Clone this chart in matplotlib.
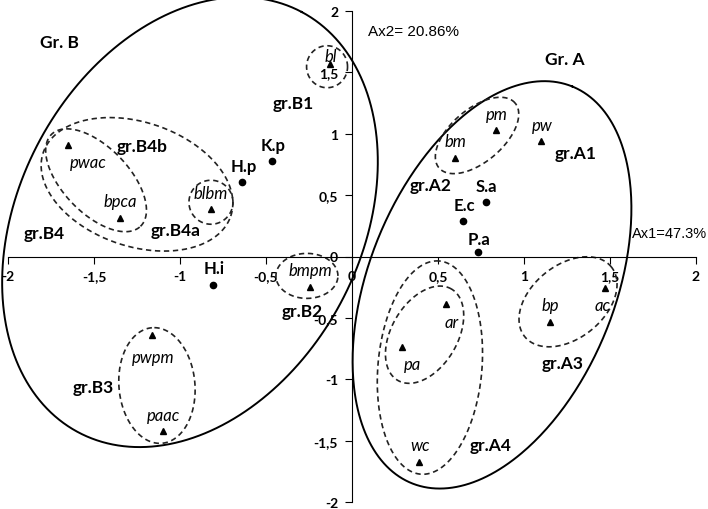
import numpy as np
import matplotlib
matplotlib.use('Agg')
from matplotlib import pyplot as plt

# species (triangles)
sp_names = ['bl', 'pwac', 'bpca', 'blbm', 'bmpm', 'pwpm', 'paac',
            'pm', 'bm', 'pw', 'ar', 'pa', 'wc', 'bp', 'ac']
sp_x = [-0.13, -1.65, -1.35, -0.82, -0.245, -1.16, -1.10,
        0.84, 0.60, 1.10, 0.545, 0.29, 0.39, 1.15, 1.47]
sp_y = [1.57, 0.91, 0.31, 0.385, -0.247, -0.637, -1.424,
        1.034, 0.803, 0.941, -0.385, -0.734, -1.675, -0.53, -0.256]

# bacteria (circles)
bac_names = ['H.p', 'K.p', 'H.i', 'S.a', 'E.c', 'P.a']
bac_x = [-0.64, -0.465, -0.81, 0.78, 0.645, 0.73]
bac_y = [0.604, 0.775, -0.231, 0.442, 0.288, 0.037]

ticks = [-2, -1.5, -1, -0.5, 0, 0.5, 1, 1.5, 2]
tick_labels = [f'{v:g}'.replace('.', ',') for v in ticks]

# label offsets (pixels) from the marker
sp_off = [(1, 8), (20, -17), (0, 17), (0, 16), (1, 17), (1, -22), (1, 16),
          (0, 16), (0, 17), (1, 16), (6, -18), (11, -17), (1, 17), (0, 17), (-2, -17)]
bac_off = [(2, 16), (1, 16), (1, 17), (0, 16), (1, 16), (1, 13)]

# group labels
groups = [('Gr. B', -1.703, 1.748), ('gr.B1', -0.343, 1.254),
          ('gr.B4b', -1.221, 0.897), ('gr.B4a', -1.023, 0.215),
          ('gr.B4', -1.791, 0.191), ('gr.B2', -0.291, -0.442),
          ('gr.B3', -1.506, -1.067), ('Gr. A', 1.238, 1.611),
          ('gr.A1', 1.302, 0.840), ('gr.A2', 0.459, 0.580),
          ('gr.A3', 1.227, -0.864), ('gr.A4', 0.808, -1.537)]

# ellipses: centre (data), semi-axes (px), angle (deg), dashed?
ellipses = [(-0.942, 0.280, 238, 171, 62, False),
            (0.814, -0.231, 214, 123, 68, False),
            (-1.250, 0.588, 99, 62, -18.7, True),
            (-1.488, 0.621, 64, 33, -46, True),
            (-0.820, 0.442, 22, 22, 0, True),
            (-0.145, 1.546, 20.5, 21, 0, True),
            (-0.262, -0.158, 31, 22.5, 0, True),
            (-1.134, -1.051, 58, 38, 95, True),
            (0.727, 0.986, 50, 26.4, 40.5, True),
            (1.256, -0.369, 55.6, 36.6, 38.8, True),
            (0.422, -0.637, 53, 33, 59.5, True),
            (0.453, -0.905, 107, 52, 85, True)]

W, H = 708, 510
fig = plt.figure(figsize=(W / 100, H / 100), dpi=100)
ax = fig.add_axes([8 / W, 7 / H, 688 / W, 491 / H])
ax.set_xlim(-2, 2)
ax.set_ylim(-2, 2)
px_x = 688 / 4
px_y = 491 / 4

for s in ['top', 'right']:
    ax.spines[s].set_visible(False)
for s in ['left', 'bottom']:
    ax.spines[s].set_position('zero')
    ax.spines[s].set_linewidth(0.8)
ax.set_xticks(ticks)
ax.set_yticks(ticks)
ax.set_xticklabels(tick_labels)
ax.set_yticklabels(tick_labels)
ax.tick_params(direction='out', length=5, width=0.8, pad=5)
for lab in ax.get_xticklabels() + ax.get_yticklabels():
    lab.set_family('Lato')
    lab.set_fontweight('bold')
    lab.set_fontsize(10)

t = np.linspace(0, 2 * np.pi, 400)
for cx, cy, a, b, ang, dashed in ellipses:
    phi = np.radians(ang)
    dx = a * np.cos(t) * np.cos(phi) - b * np.sin(t) * np.sin(phi)
    dy = a * np.cos(t) * np.sin(phi) + b * np.sin(t) * np.cos(phi)
    if dashed:
        ax.plot(cx + dx / px_x, cy + dy / px_y, color='#222222', lw=1.2,
                dashes=(3.2, 2.2), clip_on=False)
    else:
        ax.plot(cx + dx / px_x, cy + dy / px_y, color='black', lw=1.4,
                clip_on=False)

ax.plot(sp_x, sp_y, '^', color='black', ms=4.5, ls='none')
ax.plot(bac_x, bac_y, 'o', color='black', ms=4.5, ls='none')

for name, x, y, off in zip(sp_names, sp_x, sp_y, sp_off):
    ax.annotate(name, (x, y), xytext=off, textcoords='offset pixels',
                ha='center', va='center', family='Lato', style='italic',
                fontsize=12)
for name, x, y, off in zip(bac_names, bac_x, bac_y, bac_off):
    ax.annotate(name, (x, y), xytext=off, textcoords='offset pixels',
                ha='center', va='center', family='Lato', weight='bold',
                fontsize=12)
for name, x, y in groups:
    ax.text(x, y, name, ha='center', va='center', family='Lato',
            weight='bold', fontsize=12.5)

ax.text(0.093, 1.838, 'Ax2= 20.86%', ha='left', va='center',
        family='Liberation Sans', fontsize=11)
ax.text(1.628, 0.191, 'Ax1=47.3%', ha='left', va='center',
        family='Liberation Sans', fontsize=10.5)

fig.savefig('out.png', dpi=100)
